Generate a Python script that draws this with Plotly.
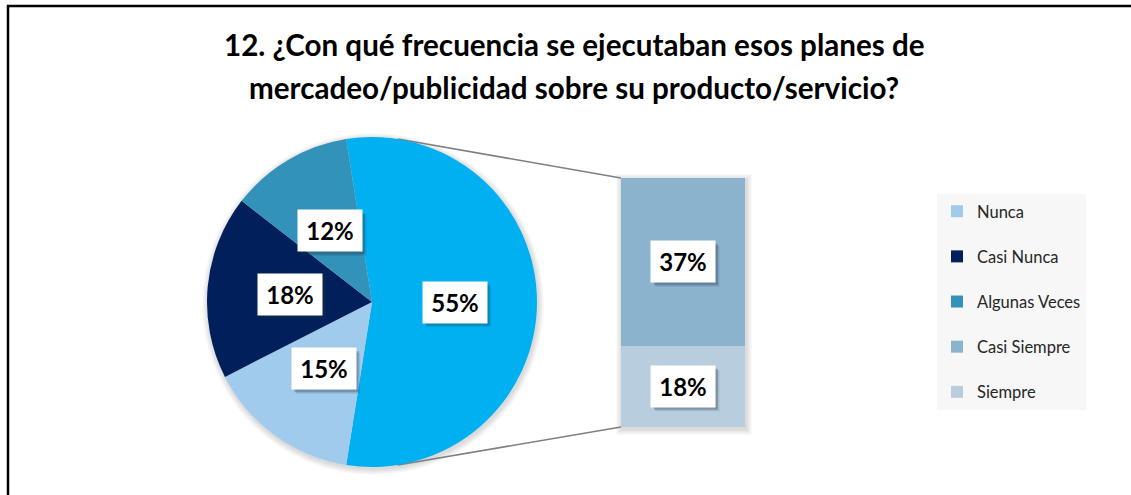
import plotly.graph_objects as go
import math

# ---------------- data ----------------
pie_labels = ["Nunca", "Casi Nunca", "Algunas Veces"]
pie_values = [15, 18, 12]
bar_labels = ["Casi Siempre", "Siempre"]
bar_values = [37, 18]
title_lines = ["12. ¿Con qué frecuencia se ejecutaban esos planes de",
               "mercadeo/publicidad sobre su producto/servicio?"]

colors = {"Nunca": "#A1CBEC", "Casi Nunca": "#001F5B", "Algunas Veces": "#3392BA",
          "Casi Siempre": "#8BB3CE", "Siempre": "#B8CDDD", "Otro": "#00B0F0"}

# ---------------- layout geometry (pixels) ----------------
W, H = 1131, 495
cx, cy, r = 372, 302, 165          # pie centre / radius
bx0, bx1, by0, by1 = 621, 745, 178, 427   # bar box (left, right, top, bottom)
BW, BH = 64, 41                     # label box size

def PX(x):
    return x / W

def PY(y):
    return 1 - y / H

other = sum(bar_values)
total = other + sum(pie_values)
half = other / total * 180.0
rotation = 90 - half

FONT = "Lato"

fig = go.Figure()

# pie (other slice first, then the detail slices clockwise)
vals = [other] + pie_values
labs = ["Otro"] + pie_labels
fig.add_trace(go.Pie(
    labels=labs, values=vals, sort=False, direction="clockwise", rotation=rotation,
    marker=dict(colors=[colors[l] for l in labs], line=dict(width=0)),
    textinfo="none", hoverinfo="label+percent", showlegend=False,
    domain=dict(x=[PX(cx - r), PX(cx + r)], y=[PY(cy + r), PY(cy - r)]),
))

# legend-only placeholders for the pie categories
rank = 1
for lab in pie_labels:
    fig.add_trace(go.Bar(x=[0], y=[0], name=lab, marker=dict(color=colors[lab], line=dict(width=0)),
                         legendrank=rank, legendgroup=lab, hoverinfo="skip"))
    rank += 1

# stacked bar: bottom is the last label
for lab, v in reversed(list(zip(bar_labels, bar_values))):
    fig.add_trace(go.Bar(x=[0], y=[v], name=lab, marker=dict(color=colors[lab], line=dict(width=0)),
                         legendrank=rank + bar_labels.index(lab), legendgroup=lab))

annotations = []
shapes = []

def label_box(xp, yp, text, xref="paper", yref="paper"):
    # blurred-looking drop shadow made of two offset rectangles
    for off, op in ((4.5, 0.12), (3, 0.28)):
        shapes.append(dict(type="rect", xref=xref, yref=yref, xsizemode="pixel", ysizemode="pixel",
                           xanchor=xp, yanchor=yp,
                           x0=-BW / 2 + off, x1=BW / 2 + off, y0=-BH / 2 - off, y1=BH / 2 - off,
                           line=dict(width=0), fillcolor="rgba(30,50,70,%s)" % op))
    annotations.append(dict(x=xp, y=yp, xref=xref, yref=yref, showarrow=False,
                            xanchor="center", yanchor="middle", width=BW - 4, height=BH - 4,
                            borderpad=2, text="<b>%s</b>" % text, bgcolor="white",
                            font=dict(family=FONT, size=24, color="black")))

# pie labels at half radius, slice mid-angle
ang = rotation
for lab, v in zip(labs, vals):
    a = ang + v / total * 180.0
    rad = math.radians(a)
    x = cx + 0.5 * r * math.sin(rad)
    y = cy - 0.5 * r * math.cos(rad)
    label_box(PX(x), PY(y), "%d%%" % round(v / total * 100))
    ang += v / total * 360.0

# bar labels
base = 0
for lab, v in reversed(list(zip(bar_labels, bar_values))):
    label_box(0, base + v / 2, "%d%%" % v, xref="x", yref="y")
    base += v

# title
for i, line in enumerate(title_lines):
    annotations.append(dict(x=PX(574), y=PY(44 + 43 * i), xref="paper", yref="paper",
                            text="<b>%s</b>" % line, showarrow=False,
                            font=dict(family=FONT, size=29.6, color="black"),
                            xanchor="center", yanchor="middle"))

# soft shadows behind pie and bar
for k in range(6, 0, -1):
    shapes.append(dict(type="circle", xref="paper", yref="paper", layer="below",
                       x0=PX(cx - r - k + 1), x1=PX(cx + r + k + 1),
                       y0=PY(cy + r + k + 2), y1=PY(cy - r - k + 2),
                       line=dict(width=0), fillcolor="rgba(0,0,0,0.025)"))
    shapes.append(dict(type="rect", xref="paper", yref="paper", layer="below",
                       x0=PX(bx0 - k + 1), x1=PX(bx1 + k + 1),
                       y0=PY(by1 + k + 2), y1=PY(by0 - k + 2),
                       line=dict(width=0), fillcolor="rgba(0,0,0,0.025)"))

# connector lines
for a, yb in ((half - 90, by0), (270 - half, by1)):
    rad = math.radians(a)
    shapes.append(dict(type="line", xref="paper", yref="paper", layer="below",
                       x0=PX(cx + r * math.sin(rad)), y0=PY(cy - r * math.cos(rad)),
                       x1=PX(bx0), y1=PY(yb), line=dict(color="#7F7F7F", width=1.5)))

# outer border
shapes.append(dict(type="rect", xref="paper", yref="paper", x0=PX(8), y0=PY(505),
                   x1=PX(1140), y1=PY(6), line=dict(color="black", width=2.5)))

fig.update_layout(
    width=W, height=H, margin=dict(l=0, r=0, t=0, b=0),
    paper_bgcolor="white", plot_bgcolor="rgba(0,0,0,0)",
    barmode="stack", bargap=0,
    xaxis=dict(domain=[PX(bx0), PX(bx1)], range=[-0.5, 0.5], visible=False, fixedrange=True),
    yaxis=dict(domain=[PY(by1), PY(by0)], range=[0, other], visible=False, fixedrange=True),
    legend=dict(x=PX(937), y=PY(194), xanchor="left", yanchor="top", bgcolor="#F7F7F7",
                font=dict(family=FONT, size=16.5, color="#262626"), tracegroupgap=20.7,
                itemwidth=30),
    annotations=annotations, shapes=shapes,
    font=dict(family=FONT),
)

fig.write_html("out.html", post_script="document.body.style.margin='0px';",
               config={"displayModeBar": False})
